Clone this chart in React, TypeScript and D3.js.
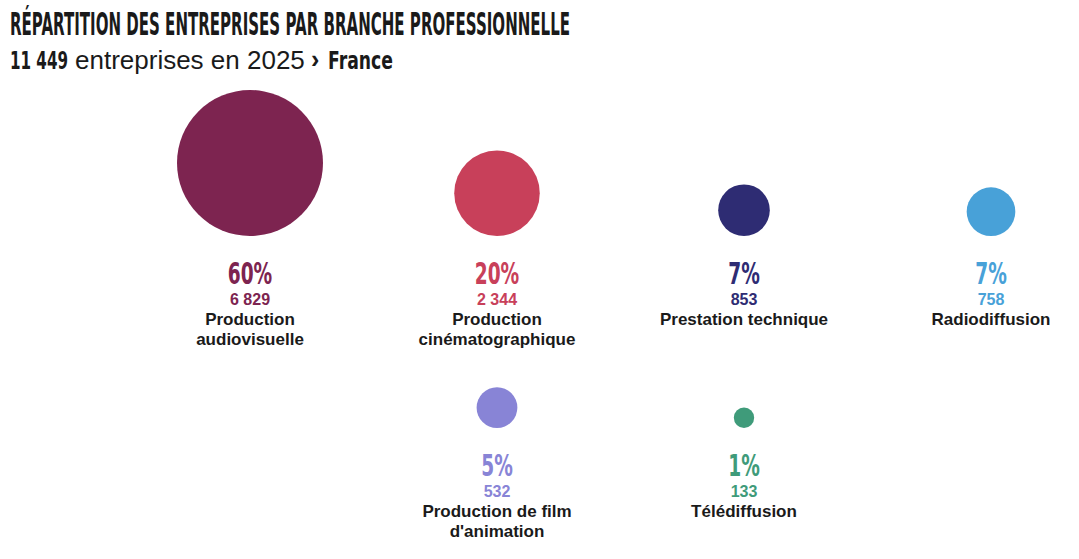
import React from 'react';
import * as d3 from 'd3';

const WIDTH = 1079;
const HEIGHT = 559;

// données
const branches = [
  'Production audiovisuelle',
  'Production cinématographique',
  'Prestation technique',
  'Radiodiffusion',
  "Production de film d'animation",
  'Télédiffusion'
];
const entreprises = [6829, 2344, 853, 758, 532, 133];
const parts = ['60%', '20%', '7%', '7%', '5%', '1%'];
const couleurs = ['#7d2450', '#c8405a', '#2e2c73', '#48a1d8', '#8884d6', '#3f9b7a'];
const titre = 'RÉPARTITION DES ENTREPRISES PAR BRANCHE PROFESSIONNELLE';
const total = '11 449';
const annee = '2025';
const pays = 'France';

const PER_ROW = 4;
const ROW_BOTTOM = [236, 428];

const heavy = "'DejaVu Sans', sans-serif";
const sans = "'Liberation Sans', Arial, sans-serif";
const SQUEEZE = 0.62; // pour imiter la police condensée

const fmt = (n: number) => d3.format(',')(n).replace(/,/g, ' ');

let ctx: CanvasRenderingContext2D | null = null;
const measure = (text: string, font: string): number => {
  if (!ctx) ctx = document.createElement('canvas').getContext('2d');
  if (!ctx) return text.length * 10;
  ctx.font = font;
  return ctx.measureText(text).width;
};

// découpe un libellé en lignes selon une largeur max
const wrap = (text: string, maxWidth: number, font: string): string[] => {
  const words = text.split(' ');
  const lines: string[] = [];
  let cur = '';
  words.forEach(w => {
    const test = cur ? cur + ' ' + w : w;
    if (measure(test, font) > maxWidth && cur) {
      lines.push(cur);
      cur = w;
    } else {
      cur = test;
    }
  });
  if (cur) lines.push(cur);
  return lines;
};

// texte condensé, compressé pour tenir dans une largeur donnée
const Squeezed = (props: {
  x: number;
  y: number;
  width: number;
  size: number;
  children: string;
}) => {
  const w = measure(props.children, `bold ${props.size}px ${heavy}`);
  const k = w > 0 ? props.width / w : SQUEEZE;
  return (
    <text
      transform={`translate(${props.x},${props.y}) scale(${k},1)`}
      fontFamily={heavy}
      fontWeight="bold"
      fontSize={props.size}
      fill="#1a1a1a"
    >
      {props.children}
    </text>
  );
};

export default function App() {
  const r = d3.scaleSqrt().domain([0, d3.max(entreprises) || 0]).range([0, 73]);
  const x = d3
    .scalePoint<number>()
    .domain(d3.range(PER_ROW))
    .range([250, 991]);

  const items = branches.map((b, i) => {
    const row = Math.floor(i / PER_ROW);
    const inRow = Math.min(PER_ROW, branches.length - row * PER_ROW);
    const col = (i % PER_ROW) + (PER_ROW - inRow) / 2;
    return {
      label: b,
      value: entreprises[i],
      part: parts[i],
      color: couleurs[i],
      cx: x(col) || 0,
      bottom: ROW_BOTTOM[row]
    };
  });

  return (
    <svg
      width={WIDTH}
      height={HEIGHT}
      viewBox={`0 0 ${WIDTH} ${HEIGHT}`}
      style={{ position: 'absolute', left: 0, top: 0, background: '#fff' }}
    >
      {/* titre */}
      <Squeezed x={10} y={35} width={560} size={32}>
        {titre}
      </Squeezed>
      {/* sous-titre */}
      <Squeezed x={10} y={69} width={58} size={25}>
        {total}
      </Squeezed>
      <text x={75} y={69} fontFamily={sans} fontSize={26} fill="#1a1a1a">
        entreprises en {annee}
      </text>
      <text x={311} y={68} fontFamily={sans} fontWeight="bold" fontSize={25} fill="#1a1a1a">
        ›
      </text>
      <Squeezed x={328} y={69} width={65} size={25}>
        {pays}
      </Squeezed>

      {items.map((d, i) => {
        const rad = r(d.value);
        const lines = wrap(d.label, 185, `bold 17px ${sans}`);
        return (
          <g key={i} transform={`translate(${d.cx},0)`}>
            <circle cx={0} cy={d.bottom - rad} r={rad} fill={d.color} />
            <text
              transform={`translate(0,${d.bottom + 48}) scale(${SQUEEZE},1)`}
              textAnchor="middle"
              fontFamily={heavy}
              fontWeight="bold"
              fontSize={30}
              fill={d.color}
            >
              {d.part}
            </text>
            <text
              y={d.bottom + 69}
              textAnchor="middle"
              fontFamily={sans}
              fontWeight="bold"
              fontSize={16}
              fill={d.color}
            >
              {fmt(d.value)}
            </text>
            {lines.map((l, j) => (
              <text
                key={j}
                y={d.bottom + 89 + j * 20}
                textAnchor="middle"
                fontFamily={sans}
                fontWeight="bold"
                fontSize={17}
                fill="#1a1a1a"
              >
                {l}
              </text>
            ))}
          </g>
        );
      })}
    </svg>
  );
}
